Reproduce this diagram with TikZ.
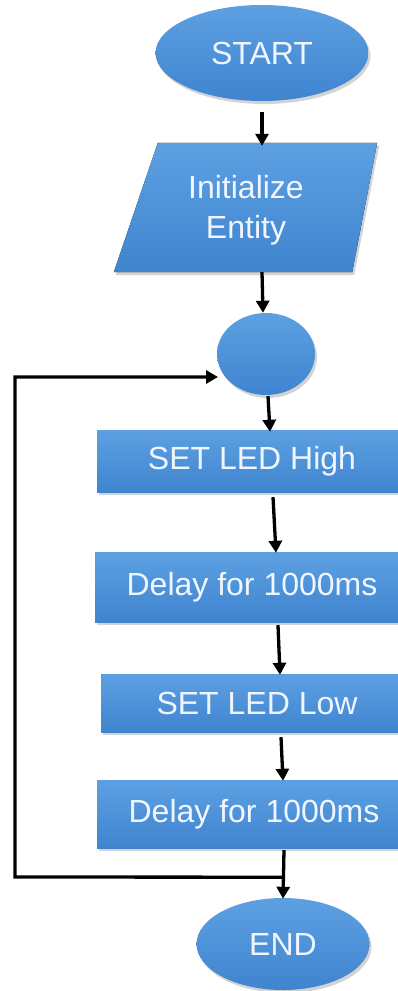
\documentclass[tikz,border=0pt]{standalone}
\usepackage{fontspec}
\setmainfont{Liberation Sans}
\usetikzlibrary{shapes.geometric,shadows,arrows.meta,calc}
\definecolor{bluetop}{HTML}{5DA0E2}
\definecolor{bluebot}{HTML}{3F84CF}
\definecolor{txt}{HTML}{F0F6FF}
\tikzset{
  blk/.style={shade, top color=bluetop, bottom color=bluebot, draw=none,
    drop shadow={opacity=0.35, shadow xshift=2pt, shadow yshift=-3pt},
    text=txt, font=\fontsize{32}{40}\selectfont, inner sep=0pt, align=center},
  term/.style={blk, ellipse},
  procbox/.style={blk, rectangle},
  arr/.style={draw=black, line width=3.3pt, -{Triangle[length=12pt,width=13pt]}},
  lin/.style={draw=black, line width=3.3pt}
}
\begin{document}
\begin{tikzpicture}[x=1pt,y=-1pt]
\useasboundingbox (0,0) rectangle (398,991);
% terminals and boxes
\node[term, minimum width=213pt, minimum height=96pt] (start) at (262,53) {START};
\node[inner sep=0pt, minimum width=263pt, minimum height=129pt] (init) at (245.5,207.5) {};
\fill[shade, top color=bluetop, bottom color=bluebot,
  drop shadow={opacity=0.35, shadow xshift=2pt, shadow yshift=-3pt}]
  ($(init.north west)+(44,0)$) -- (init.north east) -- ($(init.south east)+(-25,0)$) -- (init.south west) -- cycle;
\node[text=txt, font=\fontsize{32}{40}\selectfont, align=center, inner sep=0pt] (inittext) at (246,210) {Initialize\\Entity};
\node[term, minimum width=98pt, minimum height=82pt] (circ) at (266,354) {};
\node[procbox, minimum width=310pt, minimum height=62pt] (b1) at (252,461) {SET LED High};
\node[procbox, minimum width=314pt, minimum height=70pt] (b2) at (252,587) {Delay for 1000ms};
\node[procbox, minimum width=312pt, minimum height=58pt] (b3) at (257,703) {SET LED Low};
\node[procbox, minimum width=314pt, minimum height=68pt] (b4) at (254,814) {Delay for 1000ms};
\node[term, minimum width=173pt, minimum height=92pt] (end) at (283,944) {END};
% connectors
\draw[arr] ($(start.south)+(0,11)$) -- ($(init.north)+(16.5,3)$);
\draw[arr] ($(init.south)+(16.5,0)$) -- ($(circ.north)+(-3,0)$);
\draw[arr] ($(circ.south)+(2,1)$) -- ($(b1.north)+(18,2)$);
\draw[arr] ($(b1.south)+(21,5)$) -- ($(b2.north)+(24,1)$);
\draw[arr] ($(b2.south)+(26,3)$) -- ($(b3.north)+(23,1)$);
\draw[arr] ($(b3.south)+(24,5)$) -- ($(b4.north)+(29,1)$);
\draw[arr] ($(b4.south)+(30,2)$) -- ($(end.north)+(0,1)$);
\coordinate (j) at ($(b4.south)+(30.5,29)$);
\coordinate (c1) at (15,877);
\coordinate (c2) at (15,377);
\coordinate (cin) at ($(circ.center)+(-48,23)$);
\draw[arr, line join=miter] (j) -- (c1) -- (c2) -- (cin);
\end{tikzpicture}
\end{document}
